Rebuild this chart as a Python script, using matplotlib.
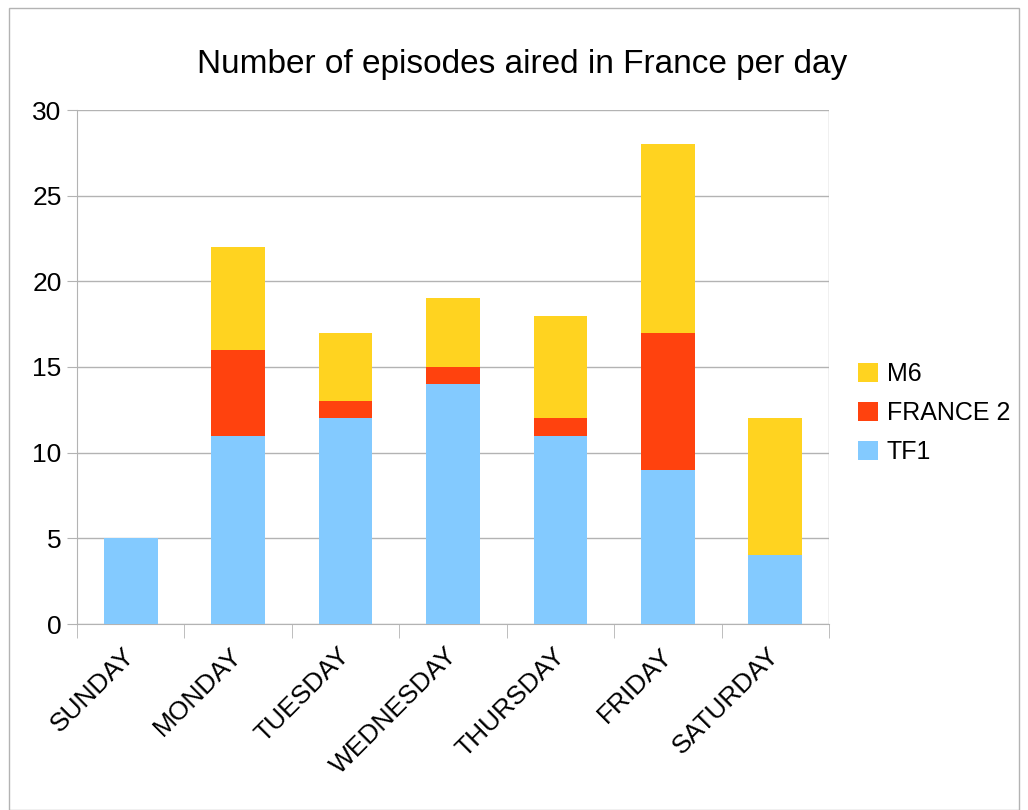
import matplotlib.pyplot as plt
import matplotlib.transforms as mtransforms
import numpy as np
from matplotlib.patches import Rectangle

plt.rcParams['font.family'] = ['Liberation Sans', 'DejaVu Sans']

days = ['SUNDAY', 'MONDAY', 'TUESDAY', 'WEDNESDAY', 'THURSDAY', 'FRIDAY', 'SATURDAY']
tf1 = [5, 11, 12, 14, 11, 9, 4]
france2 = [0, 5, 1, 1, 1, 8, 0]
m6 = [0, 6, 4, 4, 6, 11, 8]

fig = plt.figure(figsize=(10.28, 8.10), dpi=100)
ax = fig.add_axes([77/1028, 1-624/810, (829-77)/1028, (624-110)/810])

# cadre autour de la figure
fig.patches.append(Rectangle((9/1028, 0), 1010/1028, 1-8/810, transform=fig.transFigure,
                             fill=False, edgecolor='#b3b3b3', linewidth=1))

x = np.arange(len(days))
b1 = ax.bar(x, tf1, width=0.5, color='#83caff', label='TF1', zorder=3)
b2 = ax.bar(x, france2, width=0.5, bottom=tf1, color='#ff420e', label='FRANCE 2', zorder=3)
bottom2 = [a + b for a, b in zip(tf1, france2)]
b3 = ax.bar(x, m6, width=0.5, bottom=bottom2, color='#ffd320', label='M6', zorder=3)

ax.set_xlim(-0.5, len(days) - 0.5)
ax.set_ylim(0, 30)
ax.set_yticks(range(0, 31, 5))
ax.yaxis.grid(True, color='#b3b3b3', linewidth=1, zorder=0)
for s in ['top', 'right']:
    ax.spines[s].set_visible(False)
ax.spines['left'].set_color('#b3b3b3')
ax.spines['bottom'].set_color('#b3b3b3')
ax.tick_params(axis='y', length=7, color='#b3b3b3', labelsize=19, pad=4)

# ligne verticale à droite
ax.axvline(len(days) - 0.5, color='#b3b3b3', linewidth=1, zorder=0)

ax.set_xticks(x)
ax.set_xticklabels(days, rotation=45, ha='right', rotation_mode='anchor', fontsize=19)
ax.tick_params(axis='x', length=0, pad=14)
ax.set_xticks(np.arange(-0.5, len(days)), minor=True)
ax.tick_params(axis='x', which='minor', length=10, color='#b3b3b3')
shift = mtransforms.ScaledTranslation(-8/100, 0, fig.dpi_scale_trans)
for lab in ax.get_xticklabels():
    lab.set_transform(lab.get_transform() + shift)

fig.text(522/1028, 1-65/810, 'Number of episodes aired in France per day', ha='center', va='center', fontsize=24)

ax.legend(handles=[b3, b2, b1], loc='center left', bbox_to_anchor=(858/1028, 1-413/810),
          bbox_transform=fig.transFigure, frameon=False, fontsize=18, handlelength=0.8,
          handleheight=0.8, handletextpad=0.35, labelspacing=0.6, borderaxespad=0, borderpad=0)

fig.savefig('out.png', dpi=100)
